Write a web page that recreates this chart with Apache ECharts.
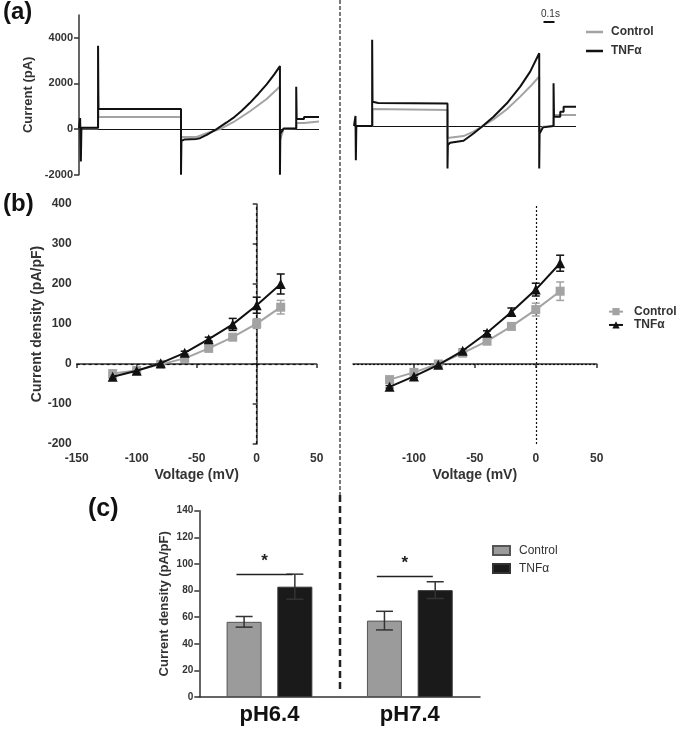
<!DOCTYPE html>
<html>
<head>
<meta charset="utf-8">
<script src="https://cdn.jsdelivr.net/npm/echarts@6/dist/echarts.min.js"></script>
<style>html,body{margin:0;padding:0;background:#fff}#c{width:683px;height:734px}</style>
</head>
<body>
<div id="c"></div>
<script>
// ---------- DATA ----------
// (a) current traces: [time (ms), current (pA)]
const traceLeftControl = [[0,30],[205,30],[205,1500],[208,530],[1097,530],[1097,-1500],[1100,-350],[1265,-350],[1373,-180],[1516,0],[1659,300],[1839,780],[2018,1320],[2161,1870],[2161,-500],[2200,0],[2336,30],[2340,270],[2420,270],[2420,330],[2581,330]];
const traceLeftTNF = [[0,30],[12,30],[12,480],[20,480],[20,-1420],[26,-1420],[26,60],[205,60],[205,3650],[209,3650],[209,880],[1097,880],[1097,-2000],[1101,-2000],[1101,-520],[1130,-460],[1265,-430],[1301,-400],[1373,-250],[1480,0],[1588,290],[1659,490],[1750,800],[1839,1150],[1930,1550],[2018,1960],[2100,2400],[2161,2760],[2161,-2000],[2165,-2000],[2165,-200],[2200,20],[2336,30],[2336,1850],[2341,1850],[2341,440],[2420,440],[2420,530],[2581,530]];
const traceRightControl = [[0,30],[199,30],[199,780],[1004,735],[1004,-500],[1008,-485],[1176,-412],[1283,-220],[1373,0],[1498,323],[1642,764],[1785,1323],[1892,1764],[1989,2205],[1989,-200],[2030,0],[2143,30],[2148,515],[2384,515]];
const traceRightTNF = [[0,30],[16,30],[16,470],[20,470],[20,-1470],[25,-1470],[25,30],[195,30],[195,3820],[199,3820],[199,1100],[260,1040],[1004,1020],[1004,-1840],[1008,-1840],[1008,-800],[1032,-710],[1176,-620],[1283,-300],[1373,0],[1498,440],[1642,1030],[1785,1760],[1892,2420],[1989,3230],[1989,-1840],[1993,-1840],[1993,-300],[2030,-30],[2143,30],[2143,1910],[2148,1910],[2148,440],[2215,440],[2215,660],[2251,660],[2251,880],[2384,880]];
const traceYTicks = [-2000, 0, 2000, 4000];

// (b) I-V curves
const voltages = [-120, -100, -80, -60, -40, -20, 0, 20];
const bLeftControl = [-24, -16, -1, 14, 39, 67, 101, 142];
const bLeftControlErr = [3, 3, 3, 4, 5, 6, 12, 17];
const bLeftTNF = [-32, -17, 2, 28, 62, 99, 147, 200];
const bLeftTNFErr = [3, 3, 3, 4, 5, 15, 20, 25];
const bRightControl = [-39, -21, 0, 27, 57, 94, 136, 182];
const bRightControlErr = [3, 3, 3, 4, 5, 8, 16, 23];
const bRightTNF = [-57, -31, -2, 33, 78, 130, 186, 252];
const bRightTNFErr = [3, 3, 3, 4, 5, 10, 16, 20];
const bRightXTicks = [-100, -50, 0, 50];

// (c) bar chart
const phCategories = ['pH6.4', 'pH7.4'];
const cControl = [56.5, 57.4];
const cControlErr = [4, 7];
const cTNF = [82.9, 80.3];
const cTNFErr = [9.4, 6.3];
const sigLevels = [92, 90.5];

// ---------- STYLE ----------
const FONT = '"Liberation Sans", Arial, sans-serif';
const GRAY = '#a3a3a3';
const BLACK = '#111111';
const AX = '#333333';

function pairs(xs, ys){ return xs.map((x,i)=>[x, ys[i]]); }
function triples(xs, ys, es){ return xs.map((x,i)=>[x, ys[i], es[i]]); }

function errItem(color, capHalf, dx){
  return function(params, api){
    const x = api.value(0), y = api.value(1), e = api.value(2);
    const t = api.coord([x, y + e]), b = api.coord([x, y - e]);
    const st = {stroke: color, lineWidth: 1.5, fill: null};
    const cx = t[0] + (dx || 0);
    return {type:'group', children:[
      {type:'line', shape:{x1:cx, y1:t[1], x2:cx, y2:b[1]}, style:st},
      {type:'line', shape:{x1:cx-capHalf, y1:t[1], x2:cx+capHalf, y2:t[1]}, style:st},
      {type:'line', shape:{x1:cx-capHalf, y1:b[1], x2:cx+capHalf, y2:b[1]}, style:st}
    ]};
  };
}

const BAR_W = 35, BAR_GAP = 0.45;
const barOff = BAR_W * (1 + BAR_GAP) / 2;

const axisLineStyle = {lineStyle:{color:AX, width:1.5}};
const axisTickStyle = {length:4, lineStyle:{color:AX, width:1.5}};

const chart = echarts.init(document.getElementById('c'), null, {renderer:'canvas'});
const option = {
  animation: false,
  backgroundColor: '#fff',
  textStyle: {fontFamily: FONT},
  grid: [
    {left:79, top:15, width:240, height:159.7, outerBoundsMode:'none'},
    {left:354, top:12.95, width:222, height:159.25, outerBoundsMode:'none'},
    {left:76.7, top:204, width:240, height:240, outerBoundsMode:'none'},
    {left:353, top:204, width:243.7, height:240, outerBoundsMode:'none'},
    {left:199.3, top:510.7, width:280.7, height:186.3, outerBoundsMode:'none'}
  ],
  xAxis: [
    {gridIndex:0, type:'value', min:0, max:2581, show:false},
    {gridIndex:1, type:'value', min:0, max:2384, show:false},
    {gridIndex:2, type:'value', min:-150, max:50, interval:50,
      name:'Voltage (mV)', nameLocation:'middle', nameGap:24,
      nameTextStyle:{fontSize:14, fontWeight:'bold', color:AX},
      axisLine:axisLineStyle, axisTick:axisTickStyle, splitLine:{show:false},
      axisLabel:{fontSize:12, fontWeight:'bold', color:AX, margin:9}},
    {gridIndex:3, type:'value', min:-150, max:50, interval:50,
      name:'Voltage (mV)', nameLocation:'middle', nameGap:24,
      nameTextStyle:{fontSize:14, fontWeight:'bold', color:AX},
      axisLine:axisLineStyle, axisTick:Object.assign({customValues:bRightXTicks}, axisTickStyle), splitLine:{show:false},
      axisLabel:{fontSize:12, fontWeight:'bold', color:AX, margin:9, customValues:bRightXTicks}},
    {gridIndex:4, type:'category', data:phCategories,
      axisLine:axisLineStyle, axisTick:{alignWithLabel:true, length:5, lineStyle:{color:AX, width:1.5}},
      axisLabel:{fontSize:22, fontWeight:'bold', color:BLACK, margin:7}}
  ],
  yAxis: [
    {gridIndex:0, type:'value', min:-2000, max:5000,
      name:'Current (pA)', nameLocation:'middle', nameGap:44,
      nameTextStyle:{fontSize:13, fontWeight:'bold', color:AX},
      axisLine:{show:true, lineStyle:{color:AX, width:1.5}},
      axisTick:{show:true, length:5, customValues:traceYTicks, lineStyle:{color:AX, width:1.5}},
      axisLabel:{fontSize:11, fontWeight:'bold', color:AX, margin:6, customValues:traceYTicks, formatter:v=>String(v)},
      splitLine:{show:false}},
    {gridIndex:1, type:'value', min:-2000, max:5000, show:false},
    {gridIndex:2, type:'value', min:-200, max:400, interval:100,
      name:'Current density (pA/pF)', nameLocation:'middle', nameGap:31,
      nameTextStyle:{fontSize:14, fontWeight:'bold', color:AX},
      axisLine:{show:true, lineStyle:{color:AX, width:1.5}},
      axisTick:{show:true, length:4, lineStyle:{color:AX, width:1.5}},
      axisLabel:{fontSize:12, fontWeight:'bold', color:AX, margin:5},
      splitLine:{show:false}},
    {gridIndex:3, type:'value', min:-200, max:400, interval:100, show:false},
    {gridIndex:4, type:'value', min:0, max:140, interval:20,
      name:'Current density (pA/pF)', nameLocation:'middle', nameGap:28,
      nameTextStyle:{fontSize:13, fontWeight:'bold', color:AX},
      axisLine:{show:true, lineStyle:{color:AX, width:1.5}},
      axisTick:{show:true, length:5, lineStyle:{color:AX, width:1.5}},
      axisLabel:{fontSize:10, fontWeight:'bold', color:AX, margin:6},
      splitLine:{show:false}}
  ],
  legend: [
    {data:[{name:'Control_a', icon:'rect'},{name:'TNFα_a', icon:'rect'}], orient:'vertical', left:586, top:25, padding:0,
      itemWidth:17, itemHeight:2.5, itemGap:5,
      selectedMode:false, formatter:n=>n.split('_')[0],
      textStyle:{fontSize:12, fontWeight:'bold', color:AX, lineHeight:14, padding:[0,0,0,3]}},
    {data:['Control_b','TNFα_b'], orient:'vertical', left:608, top:305, padding:0, itemWidth:14, itemHeight:9, itemGap:0,
      selectedMode:false, formatter:n=>n.split('_')[0],
      textStyle:{fontSize:12, fontWeight:'bold', color:AX, lineHeight:13.3, padding:[0,0,0,6]}},
    {data:['Control_c','TNFα_c'], orient:'vertical', left:492, top:543.5, padding:0, itemWidth:17, itemHeight:9, itemGap:4,
      selectedMode:false, formatter:n=>n.split('_')[0], icon:'rect',
      textStyle:{fontSize:12, color:AX, lineHeight:14, padding:[0,0,0,4]}}
  ],
  series: [
    {name:'Control_a', type:'line', xAxisIndex:0, yAxisIndex:0, data:traceLeftControl, symbol:'none',
      lineStyle:{color:GRAY, width:2}, itemStyle:{color:GRAY}, z:2,
      markLine:{silent:true, symbol:'none', label:{show:false}, lineStyle:{color:BLACK, width:1, type:'solid'}, data:[{yAxis:0}], z:1}},
    {name:'TNFα_a', type:'line', xAxisIndex:0, yAxisIndex:0, data:traceLeftTNF, symbol:'none',
      lineStyle:{color:BLACK, width:2}, itemStyle:{color:BLACK}, z:3},
    {name:'Control_a', type:'line', xAxisIndex:1, yAxisIndex:1, data:traceRightControl, symbol:'none',
      lineStyle:{color:GRAY, width:2}, itemStyle:{color:GRAY}, z:2,
      markLine:{silent:true, symbol:'none', label:{show:false}, lineStyle:{color:BLACK, width:1, type:'solid'}, data:[{yAxis:0}], z:1}},
    {name:'TNFα_a', type:'line', xAxisIndex:1, yAxisIndex:1, data:traceRightTNF, symbol:'none',
      lineStyle:{color:BLACK, width:2}, itemStyle:{color:BLACK}, z:3},

    // (b) left
    {name:'errBLC', type:'custom', xAxisIndex:2, yAxisIndex:2, data:triples(voltages,bLeftControl,bLeftControlErr), renderItem:errItem(GRAY,4), z:2},
    {name:'errBLT', type:'custom', xAxisIndex:2, yAxisIndex:2, data:triples(voltages,bLeftTNF,bLeftTNFErr), renderItem:errItem(BLACK,4), z:2},
    {name:'Control_b', type:'line', xAxisIndex:2, yAxisIndex:2, data:pairs(voltages,bLeftControl),
      symbol:'rect', symbolSize:9, lineStyle:{color:GRAY, width:2}, itemStyle:{color:GRAY}, z:4,
      markLine:{silent:true, symbol:'none', label:{show:false}, lineStyle:{color:BLACK, width:1.2, type:[3,3]}, data:[{xAxis:0},{yAxis:0}], z:1}},
    {name:'TNFα_b', type:'line', xAxisIndex:2, yAxisIndex:2, data:pairs(voltages,bLeftTNF),
      symbol:'triangle', symbolSize:10, lineStyle:{color:BLACK, width:2}, itemStyle:{color:BLACK}, z:5},

    // (b) right
    {name:'errBRC', type:'custom', xAxisIndex:3, yAxisIndex:3, data:triples(voltages,bRightControl,bRightControlErr), renderItem:errItem(GRAY,4), z:2},
    {name:'errBRT', type:'custom', xAxisIndex:3, yAxisIndex:3, data:triples(voltages,bRightTNF,bRightTNFErr), renderItem:errItem(BLACK,4), z:2},
    {name:'Control_b', type:'line', xAxisIndex:3, yAxisIndex:3, data:pairs(voltages,bRightControl),
      symbol:'rect', symbolSize:9, lineStyle:{color:GRAY, width:2}, itemStyle:{color:GRAY}, z:4,
      markLine:{silent:true, symbol:'none', label:{show:false}, lineStyle:{color:BLACK, width:1.2, type:[2,2]}, data:[{xAxis:0},{yAxis:0}], z:1}},
    {name:'TNFα_b', type:'line', xAxisIndex:3, yAxisIndex:3, data:pairs(voltages,bRightTNF),
      symbol:'triangle', symbolSize:10, lineStyle:{color:BLACK, width:2}, itemStyle:{color:BLACK}, z:5},

    // (c)
    {name:'Control_c', type:'bar', xAxisIndex:4, yAxisIndex:4, data:cControl, barWidth:BAR_W, barGap:(BAR_GAP*100)+'%',
      itemStyle:{color:'#9b9b9b', borderColor:'#555', borderWidth:1}, z:2},
    {name:'TNFα_c', type:'bar', xAxisIndex:4, yAxisIndex:4, data:cTNF, barWidth:BAR_W,
      itemStyle:{color:'#1a1a1a', borderColor:'#333', borderWidth:1}, z:2},
    {name:'errCC', type:'custom', xAxisIndex:4, yAxisIndex:4, data:triples([0,1],cControl,cControlErr), renderItem:errItem('#333',8.5,-barOff), z:3},
    {name:'errCT', type:'custom', xAxisIndex:4, yAxisIndex:4, data:triples([0,1],cTNF,cTNFErr), renderItem:errItem('#333',8.5,barOff), z:3},
    {name:'sig', type:'custom', xAxisIndex:4, yAxisIndex:4, data:sigLevels.map((v,i)=>[i,v]), z:3,
      renderItem:function(params, api){
        const c = api.coord([api.value(0), api.value(1)]);
        return {type:'group', children:[
          {type:'line', shape:{x1:c[0]-33, y1:c[1], x2:c[0]+23, y2:c[1]}, style:{stroke:'#222', lineWidth:1.5}},
          {type:'text', style:{text:'*', x:c[0]-5, y:c[1]-13, fontSize:17, fontWeight:'bold', fill:'#222', align:'center', verticalAlign:'middle', fontFamily:FONT}}
        ]};
      }}
  ],
  graphic: [
    {type:'text', left:3, top:0, style:{text:'(a)', fontSize:24, fontWeight:'bold', fill:BLACK, fontFamily:FONT}},
    {type:'text', left:3, top:192, style:{text:'(b)', fontSize:24, fontWeight:'bold', fill:BLACK, fontFamily:FONT}},
    {type:'text', left:88, top:497, style:{text:'(c)', fontSize:25, fontWeight:'bold', fill:BLACK, fontFamily:FONT}},
    {type:'text', left:541, top:9, style:{text:'0.1s', fontSize:10, fill:AX, fontFamily:FONT}},
    {type:'rect', shape:{x:543.5, y:21, width:11, height:2}, style:{fill:BLACK}},
    {type:'line', shape:{x1:340, y1:0, x2:340, y2:495}, style:{stroke:'#222', lineWidth:1.2, lineDash:[4,2]}},
    {type:'line', shape:{x1:340, y1:495, x2:340, y2:690}, style:{stroke:'#222', lineWidth:2.5, lineDash:[7,4]}}
  ]
};
chart.setOption(option);
</script>
</body>
</html>
